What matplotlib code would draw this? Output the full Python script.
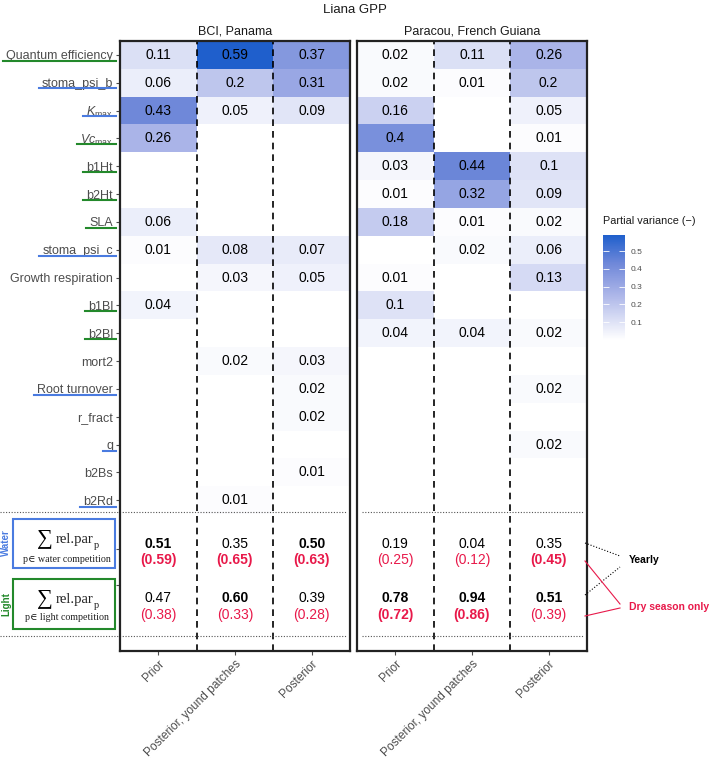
import numpy as np
import matplotlib
matplotlib.use("Agg")
import matplotlib.pyplot as plt
from matplotlib.colors import LinearSegmentedColormap, Normalize
from matplotlib.lines import Line2D
from matplotlib.patches import Rectangle

plt.rcParams['font.family'] = ['Liberation Sans', 'DejaVu Sans']
plt.rcParams['mathtext.fontset'] = 'custom'
plt.rcParams['mathtext.rm'] = 'Liberation Sans'
plt.rcParams['mathtext.it'] = 'Liberation Sans:italic'

# ---- data ----
params = ['Quantum efficiency', 'stoma_psi_b', r'$K_{\mathrm{max}}$', r'$Vc_{\mathrm{max}}$',
          'b1Ht', 'b2Ht', 'SLA', 'stoma_psi_c', 'Growth respiration', 'b1Bl', 'b2Bl',
          'mort2', 'Root turnover', 'r_fract', 'q', 'b2Bs', 'b2Rd']
# which competition each parameter belongs to (underline colour)
groups = ['light', 'water', 'water', 'light', 'light', 'light', 'light', 'water', None,
          'light', 'light', None, 'water', None, 'water', None, 'water']
runs = ['Prior', 'Posterior, yound patches', 'Posterior']
sites = ['BCI, Panama', 'Paracou, French Guiana']

nan = np.nan
# columns: Prior, Posterior young patches, Posterior
bci = [
    [0.11, 0.59, 0.37],
    [0.06, 0.2, 0.31],
    [0.43, 0.05, 0.09],
    [0.26, nan, nan],
    [nan, nan, nan],
    [nan, nan, nan],
    [0.06, nan, nan],
    [0.01, 0.08, 0.07],
    [nan, 0.03, 0.05],
    [0.04, nan, nan],
    [nan, nan, nan],
    [nan, 0.02, 0.03],
    [nan, nan, 0.02],
    [nan, nan, 0.02],
    [nan, nan, nan],
    [nan, nan, 0.01],
    [nan, 0.01, nan],
]
paracou = [
    [0.02, 0.11, 0.26],
    [0.02, 0.01, 0.2],
    [0.16, nan, 0.05],
    [0.4, nan, 0.01],
    [0.03, 0.44, 0.1],
    [0.01, 0.32, 0.09],
    [0.18, 0.01, 0.02],
    [nan, 0.02, 0.06],
    [0.01, nan, 0.13],
    [0.1, nan, nan],
    [0.04, 0.04, 0.02],
    [nan, nan, nan],
    [nan, nan, 0.02],
    [nan, nan, nan],
    [nan, nan, 0.02],
    [nan, nan, nan],
    [nan, nan, nan],
]

# summed relative partial variance per competition type
water_yearly = [[0.51, 0.35, 0.50], [0.19, 0.04, 0.35]]
water_dry = [[0.59, 0.65, 0.63], [0.25, 0.12, 0.45]]
light_yearly = [[0.47, 0.60, 0.39], [0.78, 0.94, 0.51]]
light_dry = [[0.38, 0.33, 0.28], [0.72, 0.86, 0.39]]

# ---- layout helpers (pixel coords, origin top-left) ----
W, H = 709, 760
fig = plt.figure(figsize=(W / 100, H / 100), dpi=100)


def fx(px):
    return px / W


def fy(py):
    return 1 - py / H


def row(py):
    # pixel y -> row coordinate inside the heatmap panels
    return (py - 54) / 27.875


RED = '#e8194a'
BLUE = '#4a7be0'
GREEN = '#23892b'
GREY = '#4d4d4d'

cmap = LinearSegmentedColormap.from_list(
    'pv', [(0, 'white'), (0.44, '#aab4e8'), (0.73, '#6f88d9'), (1, '#1f5fcc')])
norm = Normalize(vmin=0, vmax=0.59)

panel_x = [(120, 350), (357, 587)]
top, bottom = 41, 651
axes = []
for k, (site, vals) in enumerate(zip(sites, [bci, paracou])):
    x0, x1 = panel_x[k]
    ax = fig.add_axes([fx(x0), fy(bottom), (x1 - x0) / W, (bottom - top) / H])
    arr = np.array(vals, dtype=float)
    ax.pcolormesh(np.arange(4), np.arange(18) - 0.5, np.ma.masked_invalid(arr),
                  cmap=cmap, norm=norm)
    for i in range(arr.shape[0]):
        for j in range(3):
            if not np.isnan(arr[i, j]):
                ax.text(j + 0.5, i, f"{arr[i, j]:g}", ha='center', va='center',
                        fontsize=10, color='black')
    # summed rows
    for j in range(3):
        wy, ly = water_yearly[k][j], light_yearly[k][j]
        wd, ld = water_dry[k][j], light_dry[k][j]
        ax.text(j + 0.5, row(544), f"{wy:.2f}", ha='center', va='center', fontsize=10,
                fontweight='bold' if wy > ly else 'normal')
        ax.text(j + 0.5, row(559.5), f"({wd:.2f})", ha='center', va='center', fontsize=10,
                color=RED, fontweight='bold' if wd > ld else 'normal')
        ax.text(j + 0.5, row(598), f"{ly:.2f}", ha='center', va='center', fontsize=10,
                fontweight='bold' if ly > wy else 'normal')
        ax.text(j + 0.5, row(615), f"({ld:.2f})", ha='center', va='center', fontsize=10,
                color=RED, fontweight='bold' if ld > wd else 'normal')

    ax.set_xlim(0, 3)
    ax.set_ylim(row(bottom), -0.5)
    for xv in (1, 2):
        ax.axvline(xv, color='black', lw=1.2, ls=(0, (4, 3)))
    if k == 0:
        xa, xb = -120 / 230, 227 / 230
    else:
        xa, xb = 5 / 230, 226 / 230
    for yv in (row(512), row(636)):
        ax.plot([xa, xb], [yv, yv], transform=ax.get_yaxis_transform(), color='#555555',
                lw=0.8, ls=(0, (1, 1.5)), clip_on=False)

    ax.set_xticks([0.5, 1.5, 2.5])
    ax.set_xticklabels(runs, rotation=45, ha='right', va='top', rotation_mode='anchor',
                       fontsize=8.6, color=GREY)
    if k == 0:
        ax.set_yticks(list(range(17)) + [row(549), row(585)])
        ax.set_yticklabels(params + ['', ''], fontsize=9, color=GREY)
    else:
        ax.set_yticks([])
    ax.tick_params(length=3, color=GREY, pad=2)
    for s in ax.spines.values():
        s.set_linewidth(1.6)
        s.set_color('#222222')
    ax.set_title(site, fontsize=9, color='#1a1a1a', pad=5)
    axes.append(ax)

fig.text(fx(355), fy(10), 'Liana GPP', ha='center', va='center', fontsize=9.5, color='#1a1a1a')

# colorbar
cax = fig.add_axes([fx(603), fy(340), 22 / W, 105 / H])
cb = fig.colorbar(axes[0].collections[0], cax=cax, ticks=[0.1, 0.2, 0.3, 0.4, 0.5])
cb.outline.set_visible(False)
cax.tick_params(axis='y', direction='in', color='white', length=4, width=0.6,
                left=True, right=True, labelsize=6, labelcolor=GREY, pad=4)
fig.text(fx(603), fy(221), 'Partial variance (\u2212)', ha='left', va='center',
         fontsize=7.8, color='#1a1a1a')

# competition boxes on the left
serif = ['Liberation Serif', 'DejaVu Serif']
for name, col, ytop, ybot, sig_y, sub_y in [('water', BLUE, 519, 568, 540, 559),
                                              ('light', GREEN, 579, 629, 600, 618)]:
    fig.add_artist(Rectangle((fx(13), fy(ybot)), 102 / W, (ybot - ytop) / H,
                             transform=fig.transFigure, fill=False, ec=col, lw=1.5))
    fig.text(fx(44.5), fy(sig_y + 3), '\u2211', ha='center', va='baseline', fontsize=16,
             family=serif, color='black')
    fig.text(fx(56), fy(sig_y), 'rel.par', ha='left', va='center', fontsize=10.5,
             family=serif, color='#222222')
    fig.text(fx(93.5), fy(sig_y + 6), 'p', ha='left', va='center', fontsize=7.5,
             family=serif, color='#222222')
    fig.text(fx(67), fy(sub_y), 'p\u2208 ' + name + ' competition', ha='center',
             va='center', fontsize=7.2, family=serif, color='#222222')

fig.text(fx(6), fy(543), 'Water', rotation=90, ha='center', va='center', fontsize=7,
         fontweight='bold', color=BLUE)
fig.text(fx(6), fy(604), 'Light', rotation=90, ha='center', va='center', fontsize=7,
         fontweight='bold', color=GREEN)

# yearly / dry season legend lines
for (xa, ya, xb, yb, c, ls) in [(585, 543, 620, 556, 'black', ':'),
                                (585, 595, 620, 567, 'black', ':'),
                                (585, 561, 620, 604, RED, '-'),
                                (585, 616, 620, 608, RED, '-')]:
    fig.add_artist(Line2D([fx(xa), fx(xb)], [fy(ya), fy(yb)], transform=fig.transFigure,
                          color=c, lw=0.8, ls=ls))
fig.text(fx(629), fy(560), 'Yearly', ha='left', va='center', fontsize=7.5,
         fontweight='bold', color='black')
fig.text(fx(629), fy(607), 'Dry season only', ha='left', va='center', fontsize=7.5,
         fontweight='bold', color=RED)

# coloured underlines below the parameter names
fig.canvas.draw()
renderer = fig.canvas.get_renderer()
for i, lbl in enumerate(axes[0].get_yticklabels()[:17]):
    if groups[i] is None:
        continue
    bb = lbl.get_window_extent(renderer)
    yl = H - (54 + 27.875 * i + 6.5)
    fig.add_artist(Line2D([(bb.x0 - 3) / W, 116 / W], [yl / H, yl / H],
                          transform=fig.transFigure, lw=1.5,
                          color=GREEN if groups[i] == 'light' else BLUE))

fig.savefig('out.png', dpi=100)
